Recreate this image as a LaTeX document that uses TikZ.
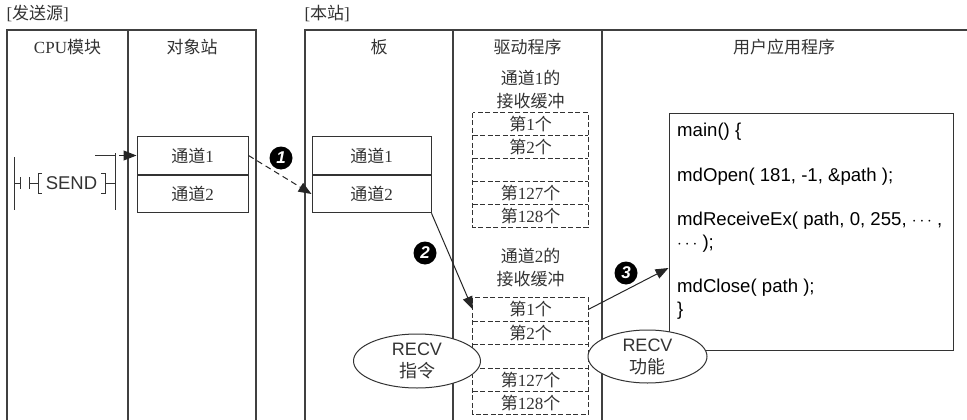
\documentclass[tikz,border=0pt]{standalone}
\usepackage{fontspec}
\setmainfont{Liberation Serif}
\setsansfont{Liberation Sans}
\newfontfamily\cjk{Noto Sans CJK SC}
\usetikzlibrary{arrows.meta,shapes.geometric,positioning}
\newcommand{\nbuf}[1]{{\cjk 第}#1{\cjk 个}}

\begin{document}
\begin{tikzpicture}[x=1pt,y=-1pt, every node/.style={font=\fontsize{17}{23}\selectfont,text=black!80}]
  \tikzstyle{frame}=[draw=black!75,line width=1.3pt]
  \tikzstyle{ch}=[draw=black!80,line width=1pt,minimum width=111pt,minimum height=37.5pt,inner sep=0pt]
  \tikzstyle{row}=[minimum width=115pt,inner sep=0pt]
  \tikzstyle{num}=[circle,fill=black,text=white,inner sep=0pt,minimum size=23pt,font=\sffamily\bfseries\itshape\fontsize{17}{17}\selectfont]
  \tikzstyle{recv}=[ellipse,draw=black!80,fill=white,line width=1pt,inner sep=0pt,align=center,font=\sffamily\fontsize{18}{22}\selectfont]
  \tikzstyle{arr}=[draw=black!85,line width=1pt,-{Triangle[length=13pt,width=10pt]}]
  \tikzstyle{ladder}=[draw=black!80,line width=1pt]
  \useasboundingbox (0,0) rectangle (967,420);
  % columns
  \draw[frame] (7,420) -- (7,30) -- (256,30) -- (256,420) (128,30) -- (128,420);
  \draw[frame] (305,420) -- (305,30) -- (967,30) (453,30) -- (453,420) (602,30) -- (602,420);
  \node[anchor=west] (src) at (3,13) {[{\cjk 发送源}]};
  \node[anchor=west] (loc) at (301,13) {[{\cjk 本站}]};
  \node (hcpu) at (67.5,47) {CPU{\cjk 模块}};
  \node (htgt) at (192,47) {{\cjk 对象站}};
  \node (hbrd) at (379,47) {{\cjk 板}};
  \node (hdrv) at (527.5,47) {{\cjk 驱动程序}};
  \node (husr) at (784,47) {{\cjk 用户应用程序}};
  % channels
  \node[ch] (tgt1) at (192.5,155.5) {{\cjk 通道}1};
  \node[ch,anchor=north] (tgt2) at (tgt1.south) {{\cjk 通道}2};
  \node[ch,minimum width=119pt] (brd1) at (371.5,155.5) {{\cjk 通道}1};
  \node[ch,minimum width=119pt,anchor=north] (brd2) at (brd1.south) {{\cjk 通道}2};
  % receive buffers
  \node[align=center] (ttl1) at (530.5,89.5) {{\cjk 通道}1{\cjk 的}\\{\cjk 接收缓冲}};
  \node[align=center] (ttl2) at (530.5,267.5) {{\cjk 通道}2{\cjk 的}\\{\cjk 接收缓冲}};
  \foreach \k/\y/\h in {1/124.25/22.5, 2/309.5/23} {
    \node[row,minimum height=\h pt] (b\k r1) at (530.5,\y) {\nbuf{1}};
    \node[row,minimum height=\h pt,below=0pt of b\k r1] (b\k r2) {\nbuf{2}};
    \node[row,minimum height=\h pt,below=0pt of b\k r2] (b\k r3) {};
    \node[row,minimum height=\h pt,below=0pt of b\k r3] (b\k r4) {\nbuf{127}};
    \node[row,minimum height=\h pt,below=0pt of b\k r4] (b\k r5) {\nbuf{128}};
    \draw[ladder,dash pattern=on 5pt off 2.5pt] (b\k r1.north west) rectangle (b\k r5.south east);
    \foreach \r in {1,2,3,4}
      \draw[ladder,dash pattern=on 5pt off 2.5pt] (b\k r\r.south west) -- (b\k r\r.south east);
  }
  % user program
  \node[draw=black!80,line width=1pt,minimum width=284pt,minimum height=237pt,inner sep=0pt] (code) at (811,231.5) {};
  \node[anchor=north west,align=left,inner sep=0pt,text=black,font=\sffamily\fontsize{18.6}{22.5}\selectfont] (prog) at (677,123) {main() \{\\[22pt] mdOpen( 181, -1, \&path );\\[22pt] mdReceiveEx( path, 0, 255, $\cdots$ ,\\ $\cdots$ );\\[22pt] mdClose( path );\\ \}};
  % ladder
  \draw[ladder] (14,157) -- (14,210) (14,183) -- (20,183) (20,177) -- (20,189) (29,177) -- (29,189) (29,183) -- (38,183)
    (42,173) -- (38,173) -- (38,193) -- (42,193) (101,173) -- (105,173) -- (105,193) -- (101,193) (105,183) -- (115,183)
    (115,153) -- (115,210) (95,155.5) -- (115,155.5);
  \node[inner sep=0pt,font=\sffamily\fontsize{18.5}{18.5}\selectfont] (send) at (71.5,183) {SEND};
  \coordinate (lout) at (119,155.5);
  % arrows
  \draw[arr] (lout) -- (tgt1.west);
  \draw[arr,dash pattern=on 6pt off 4pt] (tgt1.east) -- (brd2.west);
  \draw[arr] (brd2.south east) -- (b2r1.west);
  \draw[arr] (b2r1.east) -- ([yshift=-36.5pt]code.west);
  \node[num] (m1) at (281,158) {1};
  \node[num] (m2) at (425,253) {2};
  \node[num] (m3) at (626,273) {3};
  \node[recv,minimum width=127pt,minimum height=54pt] (rcv1) at (417,361) {RECV\\{\cjk 指令}};
  \node[recv,minimum width=119pt,minimum height=53pt] (rcv2) at (647.5,356.5) {RECV\\{\cjk 功能}};
\end{tikzpicture}
\end{document}
